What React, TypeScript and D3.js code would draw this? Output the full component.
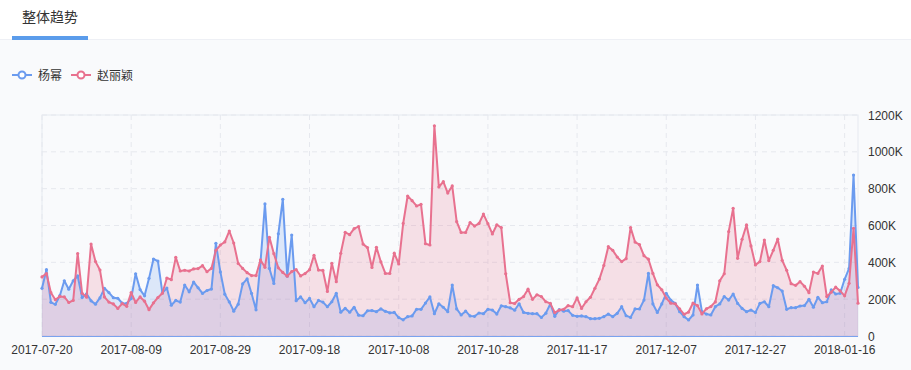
import React from "react";
import * as d3 from "d3";

const startDate = "2017-07-20";
const tickLabels = ["2017-07-20","2017-08-09","2017-08-29","2017-09-18","2017-10-08","2017-10-28","2017-11-17","2017-12-07","2017-12-27","2018-01-16"];
const yTicks = [0, 200, 400, 600, 800, 1000, 1200];
const seriesNames = ["杨幂", "赵丽颖"];

const yangMi = [
259,360,183,172,219,300,254,300,326,209,229,191,173,207,259,236,208,205,178,177,
203,338,252,218,313,418,407,234,260,167,193,184,277,240,292,262,231,247,255,503,
348,227,185,135,173,283,310,231,142,400,717,367,285,555,742,325,548,192,212,181,
204,159,193,184,159,186,232,129,150,129,156,113,110,137,138,132,147,134,126,128,
100,88,105,109,145,145,179,212,121,175,156,132,277,147,114,135,109,107,125,121,
145,141,119,164,159,153,140,175,128,123,121,121,101,124,174,107,143,135,138,112,
107,109,105,94,94,96,105,119,105,123,159,110,101,147,147,195,340,174,128,174,
232,195,177,132,105,87,114,277,132,119,114,159,174,214,195,228,177,150,132,141,
128,177,186,159,273,262,244,145,154,154,163,165,199,156,210,181,186,250,228,232,
308,367,874,264
];

const zhaoLiying = [
321,339,235,197,215,212,182,193,448,232,211,499,404,358,212,184,174,150,176,161,
236,182,212,189,143,180,209,232,315,306,427,353,357,353,364,366,382,349,367,465,
494,511,570,505,394,367,344,328,328,413,373,536,447,370,345,325,350,360,326,339,
360,438,358,356,242,395,295,449,563,550,583,594,499,480,372,482,402,340,340,450,
391,611,760,735,706,715,501,494,1141,809,838,776,815,621,562,562,616,597,611,662,
610,554,604,589,338,181,177,199,214,254,199,224,214,186,177,127,141,145,165,159,
207,150,186,210,259,309,383,485,465,429,404,420,589,510,496,436,417,340,278,251,
206,178,175,147,118,130,179,165,120,148,160,185,300,338,567,693,422,525,603,489,
386,404,521,409,465,526,411,357,284,275,295,270,235,347,340,380,214,238,265,245,
218,286,585,178
];

const BLUE = "#6B9BEF";
const RED = "#E8718F";
const FONT = "'Liberation Sans', 'Noto Sans CJK SC', sans-serif";

export default function App() {
  const W = 911, H = 370;
  const left = 42, right = 858, top = 115, bottom = 336;
  const n = yangMi.length;
  const parse = d3.timeParse("%Y-%m-%d");
  const fmt = d3.timeFormat("%Y-%m-%d");
  const start = parse(startDate) as Date;
  const dates = d3.range(n).map((i) => fmt(d3.timeDay.offset(start, i)));

  const x = d3.scaleLinear().domain([0, n - 1]).range([left, right]);
  const y = d3.scaleLinear().domain([0, 1200]).range([bottom, top]);

  const tickIdx = tickLabels.map((t) => dates.indexOf(t));

  const line = d3.line<number>().x((_, i) => x(i)).y((d) => y(d));
  const area = d3.area<number>().x((_, i) => x(i)).y0(y(0)).y1((d) => y(d));

  const series = [
    { name: seriesNames[0], data: yangMi, color: BLUE, fill: "rgba(107,155,239,0.2)" },
    { name: seriesNames[1], data: zhaoLiying, color: RED, fill: "rgba(232,113,143,0.2)" },
  ];

  return (
    <div style={{ position: "absolute", left: 0, top: 0, width: W, height: H }}>
      <svg width={W} height={H} style={{ display: "block" }} fontFamily={FONT}>
        <rect x={0} y={0} width={W} height={H} fill="#F9FAFC" />
        <rect x={0} y={0} width={W} height={39} fill="#FFFFFF" />
        <line x1={0} x2={W} y1={39.5} y2={39.5} stroke="#EEF0F5" />
        <text x={22} y={22} fontSize={14} fill="#333" fontFamily={FONT}>整体趋势</text>
        <rect x={12} y={36} width={76} height={4} fill="#5B9CEB" />

        {/* legend */}
        {series.map((s, k) => {
          const lx = k === 0 ? 12 : 71;
          return (
            <g key={s.name}>
              <line x1={lx} x2={lx + 20} y1={75} y2={75} stroke={s.color} strokeWidth={2} />
              <circle cx={lx + 10} cy={75} r={3.5} fill="#fff" stroke={s.color} strokeWidth={2} />
              <text x={lx + 26} y={79.5} fontSize={12} fill="#333">{s.name}</text>
            </g>
          );
        })}

        {/* grid */}
        {yTicks.map((t) => (
          <line key={"h" + t} x1={left} x2={right} y1={y(t)} y2={y(t)} stroke="#E6E8EE" strokeDasharray="5,4" />
        ))}
        {tickIdx.map((i) => (
          <line key={"v" + i} x1={x(i)} x2={x(i)} y1={top} y2={bottom} stroke="#E6E8EE" strokeDasharray="5,4" />
        ))}
        <rect x={left} y={top} width={right - left} height={bottom - top} fill="none" stroke="#E6E9F0" />

        {/* areas */}
        {series.map((s) => (
          <path key={"a" + s.name} d={area(s.data) || ""} fill={s.fill} />
        ))}
        {/* lines and points */}
        {series.map((s) => (
          <g key={"s" + s.name}>
            <path d={line(s.data) || ""} fill="none" stroke={s.color} strokeWidth={2} strokeLinejoin="round" />
            {s.data.map((v, i) => (
              <circle key={i} cx={x(i)} cy={y(v)} r={1.6} fill={s.color} />
            ))}
          </g>
        ))}

        {/* x axis */}
        <line x1={left} x2={right} y1={bottom + 0.5} y2={bottom + 0.5} stroke="#7AA2EE" />
        {tickIdx.map((i, k) => (
          <text key={"xl" + k} x={x(i)} y={354} fontSize={12} fill="#333" textAnchor="middle">{tickLabels[k]}</text>
        ))}
        {/* y axis labels */}
        {yTicks.map((t) => (
          <text key={"yl" + t} x={868} y={y(t) + 4.5} fontSize={12} fill="#333">{t === 0 ? "0" : `${t}K`}</text>
        ))}
      </svg>
    </div>
  );
}
